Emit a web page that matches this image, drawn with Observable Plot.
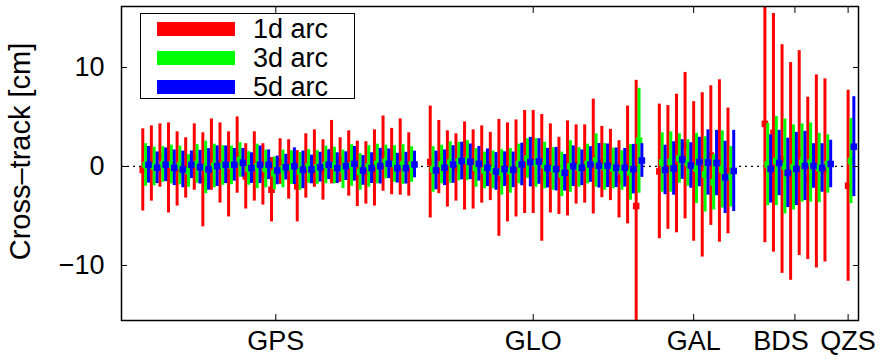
<!DOCTYPE html>
<html><head><meta charset="utf-8">
<script src="https://cdn.jsdelivr.net/npm/d3@7"></script>
<script src="https://cdn.jsdelivr.net/npm/@observablehq/plot@0.6"></script>
<style>
body{margin:0;background:#fff;font-family:"Liberation Sans",Arial,sans-serif;}
#wrap{position:relative;width:882px;height:361px;}
#legend{position:absolute;left:140px;top:13px;width:213px;height:84px;border:1.5px solid #000;background:#fff;}
.sw{position:absolute;left:16px;height:14px;width:78px;}
.lab{position:absolute;left:112px;font-size:27px;line-height:28px;height:28px;color:#000;}
</style></head><body>
<div id="wrap"></div>
<script>
// constellations
const groups = ["GPS", "GLO", "GAL", "BDS", "QZS"];
const groupCounts = [32, 25, 9, 8, 1];
const groupStart = [0, 33.5, 60.2, 72.5, 82.2]; // satellite slot of first satellite in each group

const seriesNames = ["1d arc", "3d arc", "5d arc"];
const seriesColors = ["#ff0000", "#00ff00", "#0000ff"];

// 1d arc (cm): mean and standard deviation per satellite
const mean1d = [
  -0.35, 0.3, 1.1, -0.15, -0.25, -0.15, 0.95, -1.35, 1.2, 0.35, -0.8, 1.15, -1.0, 0, -0.8, -2.35, 0.5, -0.3, -2.0, 0.05, 0.8, -0.35, 1.45, 0.65, 0.3, -0.75, -0.65, -0.15, 1.3, 0.5, 0.95, 0.2,
  0.45, 0.95, -0.25, -0.1, 0.05, -0.3, 0.2, 0, -1.15, -0.6, -0.2, 0.45, 0.45, -1.15, -0.2, -0.95, -0.2, 0.2, 0.25, 1.0, 0.45, 0.15, -1.3, 0.15, -4.0,
  -0.5, -0.1, 0.3, 2.1, -0.5, -0.85, 1.1, 0.55, -0.45,
  4.3, 3.4, 0.75, -0.5, 1.35, -1.2, -0.5, -0.4,
  -1.95];
const sd1d = [
  4.15, 3.8, 3.2, 4.55, 3.75, 3.05, 3.35, 4.75, 3.6, 4.05, 4.3, 3.85, 3.3, 3.5, 3.1, 3.25, 2.3, 3.0, 3.6, 3.25, 2.9, 3.05, 3.2, 2.25, 3.3, 3.3, 3.15, 3.85, 3.8, 3.35, 3.85, 3.2,
  5.65, 3.7, 3.85, 3.4, 4.45, 4.0, 3.9, 3.45, 5.9, 5.0, 4.9, 5.2, 5.2, 6.4, 4.5, 3.9, 4.8, 4.0, 3.95, 5.8, 3.6, 3.6, 3.9, 5.95, 12.7,
  6.8, 6.25, 7.0, 7.4, 7.05, 8.3, 7.05, 8.2, 6.35,
  12.0, 12.05, 11.55, 11.0, 10.35, 8.2, 9.75, 9.25,
  9.65];
// 3d arc
const mean3d = [
  0.15, 0, 0.2, 0.2, 0.1, -0.45, 0.25, -0.1, 0.05, 0.1, 0.1, 0.65, -0.2, 0, -0.25, -0.7, -0.25, -0.1, -0.5, 0, -0.1, 0.15, 0.1, -0.3, 0.1, -0.55, 0, 0.25, 0.45, 0.25, 0.2, 0.2,
  -0.3, 0.2, 0.4, 0.5, 0.6, -0.15, -0.4, -0.35, -0.6, -0.45, 0.25, 0.8, 0.35, 0.1, -0.25, -0.8, 0, -0.1, 0.25, 0.6, -0.05, -0.2, -0.4, -0.6, 2.6,
  0.4, 0.45, 0.8, 0.35, -0.2, -0.8, -1.6, -0.3, -1.05,
  0.2, 0.55, 0, -0.1, 0.35, 0.4, -0.15, 0.25,
  0.55];
const sd3d = [
  2.15, 1.95, 1.8, 1.95, 1.95, 1.65, 1.95, 2.65, 2.2, 2.0, 1.95, 1.75, 1.7, 2.25, 1.9, 1.65, 1.9, 1.7, 1.9, 1.7, 1.7, 1.9, 1.85, 1.95, 2.1, 1.85, 2.1, 2.0, 1.7, 1.85, 2.0, 1.8,
  2.3, 1.95, 2.1, 1.95, 2.0, 1.95, 1.85, 1.9, 2.3, 2.25, 2.0, 2.0, 2.45, 2.35, 2.15, 2.25, 2.6, 2.0, 2.0, 2.7, 2.35, 2.05, 2.0, 2.8, 5.3,
  3.0, 3.05, 2.5, 2.35, 3.55, 3.8, 2.8, 3.9, 3.05,
  4.15, 4.5, 4.8, 4.3, 3.95, 4.0, 3.5, 2.95,
  4.3];
// 5d arc
const mean5d = [
  0.17, -0.13, 0.17, -0.13, -0.3, 0.17, -0.07, -0.3, 0.03, 0.17, 0.17, 0.37, -0.17, 0.17, 0.17, -0.4, -0.07, 0.03, -0.34, -0.3, -0.07, 0.17, -0.17, 0.03, 0.27, -0.4, -0.17, 0.03, 0.27, -0.17, -0.17, 0.2,
  -0.4, -0.13, 0.2, 0.55, 0.47, 0.27, -0.13, -0.5, -0.27, -0.34, 0.2, 0.44, 0.5, -0.17, -0.27, -0.64, 0.03, -0.13, 0.2, 0.07, 0.07, -0.13, -0.13, -0.27, 0.6,
  -0.35, -0.2, 0.7, 0.1, 0.45, 0.4, 0.35, -1.1, -0.45,
  -0.25, 0.35, -0.65, -0.25, 0.05, 0.05, -0.15, 0.25,
  2.0];
const sd5d = [
  1.85, 1.6, 1.7, 1.8, 1.85, 1.4, 1.7, 2.1, 2.05, 1.9, 1.65, 1.45, 1.55, 1.9, 1.5, 1.45, 1.3, 1.85, 1.9, 1.45, 1.5, 1.5, 1.55, 1.45, 1.75, 1.5, 1.55, 1.8, 1.5, 1.5, 1.6, 1.35,
  1.95, 1.8, 1.9, 1.9, 1.8, 1.75, 1.9, 1.9, 1.75, 1.8, 2.15, 2.5, 2.3, 2.0, 2.2, 1.85, 2.05, 1.8, 1.8, 2.25, 2.2, 2.0, 1.95, 2.5, 1.7,
  2.5, 2.7, 2.0, 2.3, 2.5, 3.3, 3.3, 3.65, 4.1,
  3.45, 3.3, 3.5, 3.7, 3.5, 2.25, 2.45, 2.4,
  5.05];

const yTicks = [-10, 0, 10];
const yLabel = "Cross\u2013track [cm]";

// build satellite slots
const slots = [];
groups.forEach((g, gi) => {
  for (let i = 0; i < groupCounts[gi]; i++) slots.push(groupStart[gi] + i);
});
const groupCenters = groups.map((g, gi) => ({name: g, center: groupStart[gi] + (groupCounts[gi] - 1) / 2}));

const means = [mean1d, mean3d, mean5d];
const sds = [sd1d, sd3d, sd5d];
const seriesRows = seriesNames.map((name, k) => slots.map((s, j) => ({
  x: s + k / 3,
  mean: means[k][j],
  lo: means[k][j] - sds[k][j],
  hi: means[k][j] + sds[k][j]
})));

const marks = [
  Plot.ruleY([0], {stroke: "#000", strokeWidth: 1.2, strokeDasharray: "2,4"})
];
seriesRows.forEach((rows, k) => {
  marks.push(Plot.ruleX(rows, {x: "x", y1: "lo", y2: "hi", stroke: seriesColors[k], strokeWidth: 3, clip: true}));
  marks.push(Plot.dot(rows, {x: "x", y: "mean", symbol: "square", r: 3.7, fill: seriesColors[k], stroke: "none", clip: true}));
});
marks.push(
  Plot.frame({stroke: "#000", strokeWidth: 1.5}),
  Plot.axisY({ticks: yTicks, tickSize: 6, dx: 6, tickFormat: () => "", label: null}),
  Plot.axisY({anchor: "right", ticks: yTicks, tickSize: 6, dx: -6, tickFormat: () => "", label: null}),
  Plot.axisY({ticks: yTicks, tickSize: 0, tickPadding: 17, label: null}),
  Plot.axisX({anchor: "bottom", ticks: groupCenters.map(d => d.center), tickSize: 6, dy: -6, tickFormat: () => "", label: null}),
  Plot.axisX({anchor: "top", ticks: groupCenters.map(d => d.center), tickSize: 6, dy: 6, tickFormat: () => "", label: null}),
  Plot.text(groupCenters.filter(d => d.name !== "BDS"), {x: "center", text: "name", frameAnchor: "bottom", dy: 29}),
  Plot.text(groupCenters.filter(d => d.name === "BDS"), {x: "center", text: "name", frameAnchor: "bottom", dy: 29, dx: -14}),
  Plot.text([yLabel], {text: d => d, frameAnchor: "left", textAnchor: "middle", rotate: -90, dx: -101, dy: -12, fontSize: 29})
);

const chart = Plot.plot({
  width: 882,
  height: 361,
  marginLeft: 121,
  marginRight: 24,
  marginTop: 6,
  marginBottom: 41,
  x: {type: "linear", domain: [-2.48, 83.41], axis: null},
  y: {domain: [-15.56, 16.16], axis: null},
  style: {fontSize: "27px", fontFamily: "'Liberation Sans', Arial, sans-serif", background: "#fff", color: "#000", overflow: "visible"},
  marks
});
const wrap = document.getElementById("wrap");
wrap.appendChild(chart);

// legend inside the plot frame
const legend = document.createElement("div");
legend.id = "legend";
seriesNames.forEach((name, k) => {
  const cy = 14.5 + k * 29;
  const sw = document.createElement("div");
  sw.className = "sw";
  sw.style.top = (cy - 7) + "px";
  sw.style.background = seriesColors[k];
  const lab = document.createElement("div");
  lab.className = "lab";
  lab.style.top = (cy - 14) + "px";
  lab.textContent = name;
  legend.appendChild(sw);
  legend.appendChild(lab);
});
wrap.appendChild(legend);
</script>
</body></html>
